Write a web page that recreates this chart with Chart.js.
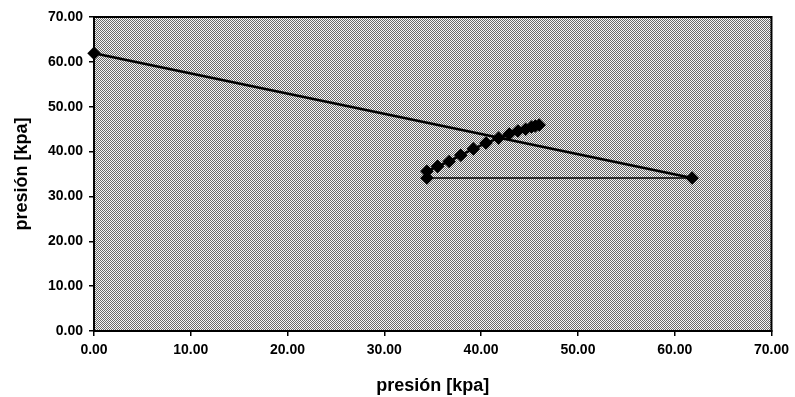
<!DOCTYPE html>
<html>
<head>
<meta charset="utf-8">
<script src="https://cdn.jsdelivr.net/npm/chart.js@4/dist/chart.umd.min.js"></script>
<style>
html,body{margin:0;padding:0;background:#fff;}
#wrap{width:795px;height:397px;position:relative;}
</style>
</head>
<body>
<div id="wrap"><canvas id="c" width="795" height="397"></canvas></div>
<script>
const xValues = [0.0, 61.8, 34.4, 34.4, 35.5, 36.7, 37.9, 39.2, 40.5, 41.8, 42.9, 43.8, 44.6, 45.2, 45.6, 46.0];
const yValues = [61.9, 34.1, 34.1, 35.6, 36.7, 37.8, 39.2, 40.6, 41.9, 43.0, 43.9, 44.6, 45.0, 45.5, 45.7, 45.9];
const xTicks = [0, 10, 20, 30, 40, 50, 60, 70];
const yTicks = [0, 10, 20, 30, 40, 50, 60, 70];
const xTitle = 'presión [kpa]';
const yTitle = 'presión [kpa]';

const points = xValues.map((x, i) => ({x: x, y: yValues[i]}));

function makePattern(ctx) {
  const p = document.createElement('canvas');
  p.width = 2; p.height = 2;
  const g = p.getContext('2d');
  g.fillStyle = '#f6f6f6';
  g.fillRect(0, 0, 2, 2);
  g.fillStyle = '#6a6a6a';
  g.fillRect(0, 0, 1, 1);
  g.fillRect(1, 1, 1, 1);
  return ctx.createPattern(p, 'repeat');
}

const bgPlugin = {
  id: 'bg',
  beforeDraw(chart) {
    const {ctx, chartArea: a} = chart;
    ctx.save();
    ctx.fillStyle = makePattern(ctx);
    ctx.fillRect(a.left, a.top, a.right - a.left, a.bottom - a.top);
    ctx.strokeStyle = '#000';
    ctx.lineWidth = 2;
    ctx.strokeRect(a.left, a.top, a.right - a.left, a.bottom - a.top);
    ctx.restore();
  }
};

new Chart(document.getElementById('c'), {
  type: 'scatter',
  data: {
    datasets: [{
      data: points,
      showLine: true,
      clip: false,
      borderColor: '#000',
      backgroundColor: '#000',
      borderWidth: 2.5,
      pointStyle: 'rectRot',
      pointRadius: 5,
      pointHoverRadius: 5,
      segment: {
        borderWidth: c => (c.p0DataIndex === 1 ? 1.5 : 2.5)
      }
    }]
  },
  plugins: [bgPlugin],
  options: {
    responsive: false,
    animation: false,
    layout: {padding: {top: 17, right: 23, left: 11, bottom: 0}},
    plugins: {legend: {display: false}, tooltip: {enabled: false}},
    scales: {
      x: {
        type: 'linear',
        min: 0, max: 70,
        afterBuildTicks: s => { s.ticks = xTicks.map(v => ({value: v})); },
        afterFit: s => { s.height = 66; },
        ticks: {
          color: '#000',
          font: {family: 'Liberation Sans, Arial', size: 14, weight: 'bold'},
          padding: 6,
          maxRotation: 0,
          callback: v => Number(v).toFixed(2)
        },
        grid: {drawOnChartArea: false, color: '#000', tickLength: 5, lineWidth: 1.5},
        border: {display: true, color: '#000', width: 2},
        title: {
          display: true, text: xTitle, color: '#000',
          font: {family: 'Liberation Sans, Arial', size: 18, weight: 'bold'},
          padding: {top: 8, bottom: 0}
        }
      },
      y: {
        type: 'linear',
        min: 0, max: 70,
        afterBuildTicks: s => { s.ticks = yTicks.map(v => ({value: v})); },
        afterFit: s => { s.width = 83; },
        ticks: {
          color: '#000',
          font: {family: 'Liberation Sans, Arial', size: 14, weight: 'bold'},
          padding: 6,
          callback: v => Number(v).toFixed(2)
        },
        grid: {drawOnChartArea: false, color: '#000', tickLength: 5, lineWidth: 1.5},
        border: {display: true, color: '#000', width: 2},
        title: {
          display: true, text: yTitle, color: '#000',
          font: {family: 'Liberation Sans, Arial', size: 18, weight: 'bold'},
          padding: {top: 0, bottom: 0}
        }
      }
    }
  }
});
</script>
</body>
</html>
